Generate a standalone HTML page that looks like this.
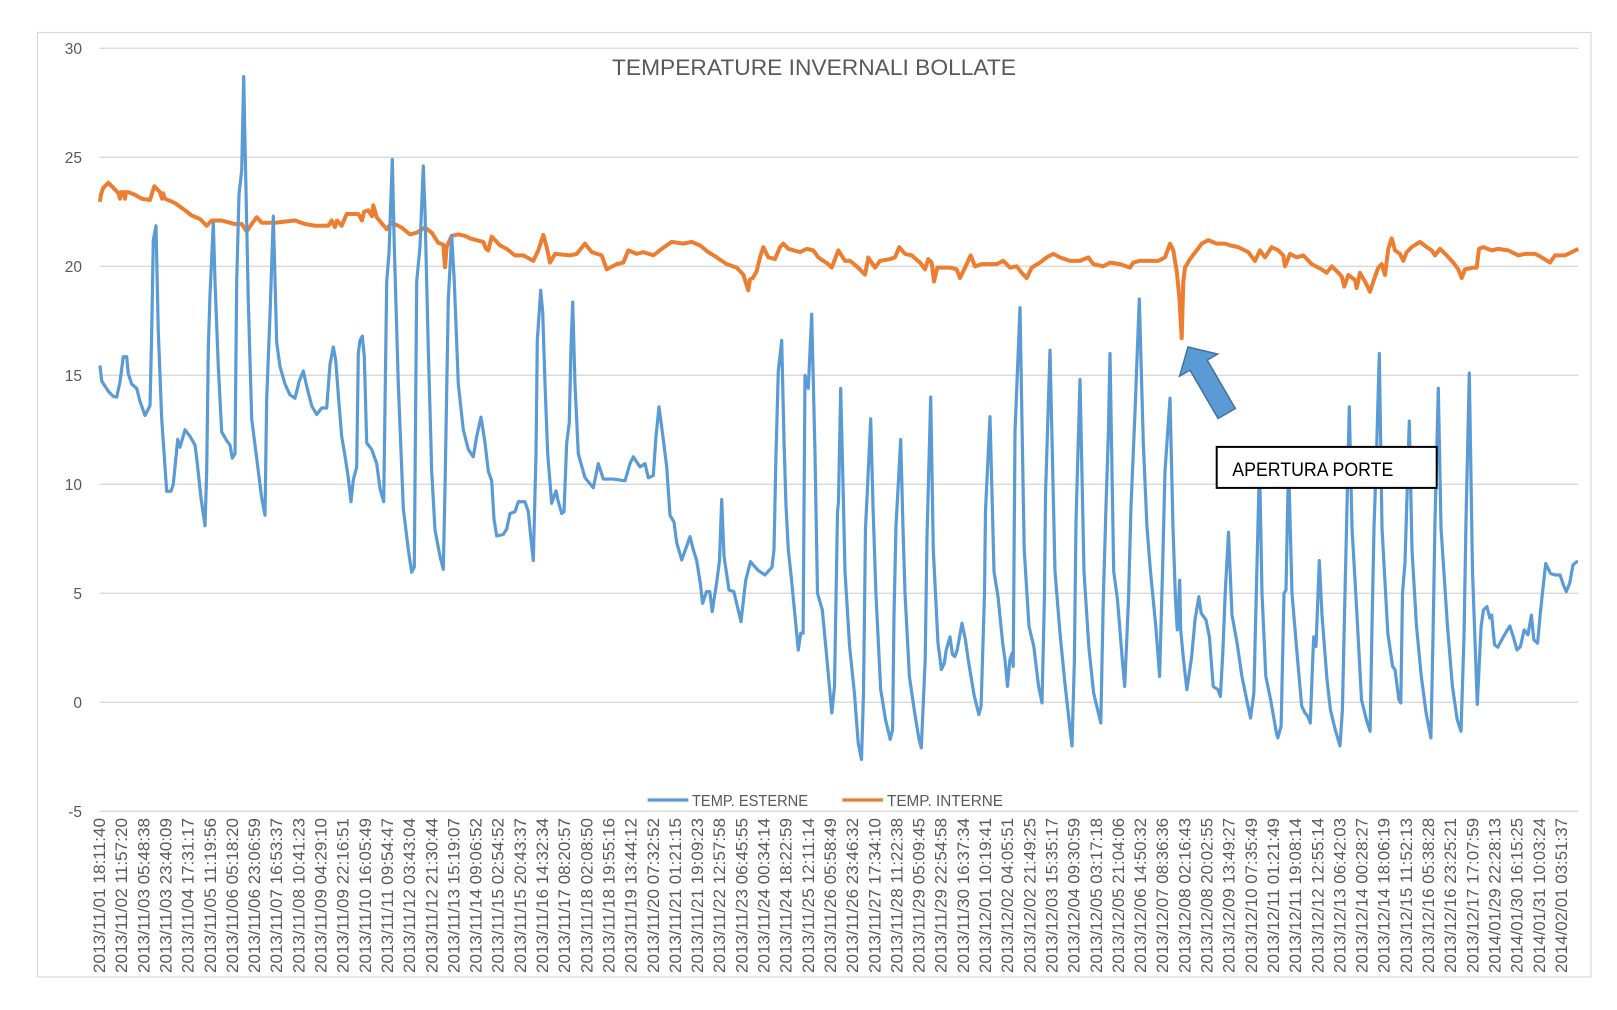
<!DOCTYPE html>
<html><head><meta charset="utf-8"><style>
html,body{margin:0;padding:0;background:#fff;}
svg{display:block;font-family:"Liberation Sans",sans-serif;}
</style></head><body>
<svg width="1617" height="1010" viewBox="0 0 1617 1010" xmlns="http://www.w3.org/2000/svg">
<rect x="0" y="0" width="1617" height="1010" fill="#fff"/>
<rect x="37.5" y="32.5" width="1553.5" height="944.5" fill="none" stroke="#D9D9D9" stroke-width="1.2"/>
<g stroke="#D9D9D9" stroke-width="1.4">
<line x1="99.5" y1="48.3" x2="1578.3" y2="48.3"/>
<line x1="99.5" y1="157.3" x2="1578.3" y2="157.3"/>
<line x1="99.5" y1="266.3" x2="1578.3" y2="266.3"/>
<line x1="99.5" y1="375.3" x2="1578.3" y2="375.3"/>
<line x1="99.5" y1="484.3" x2="1578.3" y2="484.3"/>
<line x1="99.5" y1="593.3" x2="1578.3" y2="593.3"/>
<line x1="99.5" y1="702.3" x2="1578.3" y2="702.3"/>
<line x1="99.5" y1="811.3" x2="1578.3" y2="811.3"/>
</g>
<g fill="#595959" font-size="15.5" text-anchor="end">
<text x="82" y="53.8">30</text>
<text x="82" y="162.8">25</text>
<text x="82" y="271.8">20</text>
<text x="82" y="380.8">15</text>
<text x="82" y="489.8">10</text>
<text x="82" y="598.8">5</text>
<text x="82" y="707.8">0</text>
<text x="82" y="816.8">-5</text>
</g>
<text x="814" y="75" fill="#595959" font-size="22.5" text-anchor="middle" textLength="404" lengthAdjust="spacingAndGlyphs">TEMPERATURE INVERNALI BOLLATE</text>

<g transform="translate(0,702.3) scale(1,-21.8)">
<polyline fill="none" stroke="#ED7D31" stroke-width="4" stroke-linejoin="round" vector-effect="non-scaling-stroke" points="100,22.96 101,23.3 103.3,23.6 108.3,23.83 113.3,23.6 118.3,23.36 120,23.1 121,23.4 123.3,23.4 125,23.1 126,23.4 128.3,23.4 135,23.28 141.7,23.1 150,23.04 154.3,23.67 160,23.4 162,23.1 163,23.35 165,23.1 175,22.9 185,22.57 191.7,22.33 200,22.17 206.7,21.86 211.7,22.1 221.7,22.1 235,21.94 241.7,21.94 246.7,21.6 251.7,21.94 256.7,22.25 261.7,22 275,22 295,22.1 305,21.94 315,21.86 328.3,21.86 331.7,22.1 335,21.8 337,22.1 341.7,21.86 346.7,22.4 358.3,22.4 362,22.1 364,22.5 368.3,22.57 372,22.3 373.3,22.8 376.7,22.25 386.7,21.7 391.7,22 401.7,21.78 410,21.46 416.7,21.54 425,21.78 431.7,21.54 438.3,21.07 443.3,21 445,19.96 446.7,20.9 451.7,21.4 458.3,21.46 465,21.4 470,21.28 483.3,21.12 486,20.8 488.3,20.73 491.7,21.36 500,20.96 506.7,20.8 515,20.5 523.3,20.5 533.3,20.25 538.3,20.73 543.3,21.44 546.7,20.88 550,20.17 555,20.57 570,20.5 576.7,20.57 585,21.04 591.7,20.65 601.7,20.5 606.7,19.86 610,19.94 616.7,20.1 623.3,20.17 628.3,20.73 636.7,20.57 643.3,20.65 653.3,20.5 661.7,20.8 671.7,21.12 683.3,21.04 691.7,21.12 700,20.96 708.3,20.65 716.7,20.41 726.7,20.1 736.7,19.94 743.3,19.62 748.3,18.9 750,19.4 752.7,19.46 756.7,19.78 760,20.41 763.3,20.88 768.3,20.41 775,20.33 780,20.88 783.3,21.04 788.3,20.8 800,20.65 806.7,20.8 813.3,20.73 818.3,20.41 823.3,20.25 828.3,20.1 831.7,19.94 838.3,20.73 845,20.25 850,20.25 856.7,20 865,19.62 868.3,20.4 875,19.94 880,20.25 890,20.33 895,20.41 899.3,20.88 905,20.57 911.7,20.5 920,20.17 925,19.86 928.3,20.33 931.7,20.17 934,19.3 937.3,19.94 950,19.94 956.7,19.86 960,19.46 965,19.94 970.7,20.5 975,20 981.7,20.1 996.7,20.1 1003.3,20.25 1010,19.94 1016.7,20 1021.7,19.7 1026.7,19.46 1031.7,19.94 1040,20.17 1046.7,20.41 1053.3,20.57 1060,20.41 1070,20.25 1080,20.25 1088.3,20.41 1093.3,20.1 1103.3,20 1110,20.17 1120,20.1 1130,19.94 1133.3,20.17 1140,20.25 1150,20.25 1158.3,20.25 1165,20.41 1170,21.04 1173.3,20.73 1176.7,19.78 1179.3,18.6 1181.7,16.7 1183.3,19.3 1185,19.94 1190,20.33 1196.7,20.73 1201.7,21.04 1208.3,21.2 1216.7,21.04 1225,21.04 1230,20.96 1238.3,20.88 1248.3,20.65 1255,20.25 1260,20.73 1265,20.41 1271.7,20.88 1278.3,20.73 1283.3,20.5 1285,20 1290,20.57 1296.7,20.41 1303.3,20.5 1311.7,20.1 1321.7,19.86 1326.7,19.7 1331.7,20 1336.7,19.78 1341.7,19.54 1344.3,19.07 1348.3,19.6 1355,19.38 1356.7,19 1360,19.7 1365,19.3 1370,18.83 1373.3,19.3 1378.3,19.94 1381.7,20.1 1385,19.6 1388.3,20.8 1391.7,21.28 1395,20.73 1400,20.57 1403.3,20.25 1406.7,20.65 1411.7,20.88 1420,21.12 1426.7,20.88 1431.7,20.73 1435,20.5 1440,20.8 1446.7,20.5 1453.3,20.17 1458.3,19.86 1461.7,19.46 1465,19.86 1473.3,19.94 1476.7,19.94 1479,20.8 1483.3,20.88 1491.7,20.73 1498.3,20.8 1508.3,20.73 1518.3,20.5 1525,20.57 1535,20.57 1541.7,20.41 1550,20.17 1555,20.5 1565,20.5 1571.7,20.65 1578.3,20.8"/>
<polyline fill="none" stroke="#5B9BD5" stroke-width="3.2" stroke-linejoin="round" vector-effect="non-scaling-stroke" points="100,15.45 101.7,14.74 108.3,14.27 113.3,14.03 116.7,14 120,14.7 123.3,15.85 126.7,15.85 128.3,15.06 131.7,14.6 136.7,14.4 140,13.8 145,13.16 150,13.6 151.7,16.96 153.3,21.2 156,21.86 158.3,17 161.7,13 166.7,9.68 171,9.68 173.3,10 177.7,12.06 180,11.7 185,12.5 190,12.2 195,11.8 196.7,11.2 201,9.37 205,8.1 206.7,10.6 208.3,16.2 210,18.7 213.3,22 215,19.3 218.3,15.4 221.7,12.4 226.7,12 230,11.8 232.3,11.2 235,11.4 236.7,19.3 239,23.3 241.7,24.4 243.7,28.7 245,25.65 248.3,18.4 251.7,13 258.3,10.6 261.7,9.37 265,8.58 266.7,13.95 270,17.75 273.3,22.3 276.7,16.5 280,15.4 285,14.6 290,14.1 295,13.95 299,14.7 303.3,15.2 306.7,14.5 311.7,13.6 316.7,13.2 321.7,13.5 326.7,13.5 330,15.5 333.3,16.3 335.7,15.7 338.3,14.1 341.7,12.2 345,11.3 348.3,10.3 351,9.2 353.3,10.2 356.7,10.8 358.3,16 360,16.6 362.3,16.8 364.3,15.85 366.7,11.9 371.7,11.6 376.7,10.95 380,9.8 383.7,9.2 386.7,19.3 389,20.6 392.3,24.9 394.3,20.9 398.3,14.6 403.3,8.9 408.3,7 411.7,5.97 414.3,6.2 416.7,19.3 420,20.9 423.3,24.6 425,22.5 428.3,16.2 431.7,10.6 435,7.9 440,6.7 443.3,6.1 445,9.8 448.3,18.5 451.7,21.4 454.3,19.3 458.3,14.6 463.3,12.5 468.3,11.6 473.3,11.26 476.7,12.2 481,13.08 485,11.9 488.3,10.6 491.7,10.16 494,8.4 496.7,7.63 503.3,7.7 506.7,7.95 510,8.66 515,8.74 518.3,9.2 525,9.2 528.3,8.74 531,7.48 533.3,6.5 536,11.4 537.3,16.6 540.7,18.9 542.7,17.9 545,14.6 547.7,11.4 551.7,9.13 556,9.7 558.3,9.2 561.7,8.66 564,8.74 566.7,11.9 569.3,12.84 571,16.3 572.7,18.36 575,14.57 578.3,11.4 585,10.3 593.3,9.84 598.3,10.95 603.3,10.24 613.3,10.24 625,10.16 630,10.95 633.3,11.26 640,10.8 645,10.95 648.3,10.3 653.3,10.4 656,12.2 659,13.55 663.3,12.06 666.7,10.8 670,8.58 674,8.27 676.7,7.32 681.7,6.53 686.7,7.16 690,7.6 693.3,7 696.7,6.5 700.3,5.46 702.6,4.54 706.5,5.08 709.8,5.08 712.2,4.16 717,5.6 719.5,6.5 721.7,9.3 724,6.7 729,5.15 733.8,5.08 741,3.7 745.7,5.6 750.5,6.45 757.7,6.07 764.9,5.84 772,6.2 774,7 776,11.4 778.3,15.2 781.7,16.6 784,12 786,9 788.3,7 791.2,5.76 798.3,2.4 800.7,3.17 803.1,3.17 805,15 808.3,14.4 811.7,17.8 815,11.4 817.5,5 822.3,4.24 827,1.95 831.8,-0.49 834.5,0.73 837.5,8.74 838.5,9.2 840.7,14.4 843,10 845,6 849.6,2.56 854.4,0.43 858.2,-1.86 861.5,-2.62 863.5,0.43 865.5,8 867,9.37 870.7,13 873,9 875.9,5 880.7,0.58 885.5,-0.79 890.2,-1.7 892.6,-1.25 894,4 896,8.1 900.7,12.05 903,8 905,5 909.4,1.19 914.2,-0.34 919,-1.7 921.3,-2.09 925.2,1.95 927,7.6 930.7,14 933.3,7 938,2.71 941.4,1.5 944.3,1.8 946.2,2.4 950,3 952.4,2.2 954.8,2.1 957.2,2.4 962,3.63 965.4,2.87 968.2,1.95 974,0.35 978.8,-0.56 981.1,-0.18 984.5,5 985.5,8.8 990,13.1 994,6 998,4.85 1002.7,2.71 1005,1.95 1007.5,0.73 1009.9,1.95 1012.2,2.26 1013.2,1.65 1015,12.4 1020,18.1 1024.2,7 1029,3.48 1033.8,2.56 1038.6,0.73 1042,-0.03 1044.5,5 1045.5,9.5 1050,16.15 1055,6 1060,3.17 1064.9,0.88 1069.7,-1.1 1072,-2 1074.4,1.95 1076,8.27 1080,14.8 1084,6 1088.8,2.56 1093.6,0.43 1098.4,-0.49 1100.8,-0.95 1103.2,4.54 1106,9 1108.3,12.2 1110,16 1113.7,6 1117.5,4.7 1122.3,1.95 1124.7,0.73 1128.5,4.7 1131,9 1135,13.3 1139.3,18.5 1143.3,11.9 1147,8 1150.5,6 1155.8,3.48 1159.6,1.19 1162.5,6 1165,10.6 1170,13.95 1173,8 1175.5,4.7 1177.3,3.32 1179.7,5.6 1180.7,3.32 1183.5,1.95 1186.9,0.58 1191.7,2.1 1195,3.78 1198.9,4.85 1201.2,4.09 1206,3.78 1209.4,3 1213.2,0.73 1218,0.58 1220.4,0.27 1222.8,2.26 1225.2,5 1228.5,7.8 1232,4 1237.1,2.71 1241.9,1.19 1246.7,0.12 1250.5,-0.72 1253.9,0.43 1256.3,5 1259.5,11 1262,5 1265.8,1.19 1270.6,0.12 1276.4,-1.4 1277.8,-1.63 1281.1,-1.1 1284,5 1286,5.15 1288.5,11 1292,5 1297,2.26 1301.7,-0.18 1305,-0.49 1307.8,-0.64 1310.3,-0.95 1312.7,1.95 1313.7,3 1316,2.56 1319.3,6.5 1322,4 1327,1.04 1330.4,-0.34 1335.2,-1.25 1340,-2 1342.4,-0.34 1345,5 1347,9 1349.3,13.55 1352,8 1356.7,4.24 1361.5,0.12 1366.3,-0.79 1370.1,-1.33 1372,3.48 1374,8 1376.7,11.7 1379.3,16 1382,8 1387.8,3.17 1392.6,1.65 1395,1.5 1398.9,0.12 1400.8,-0.03 1402.5,5 1405,6.4 1409.3,12.9 1412,7 1416.5,3.48 1421.3,1.19 1426.1,-0.49 1430.9,-1.63 1433,3 1435,8.3 1438.3,14.4 1441,8 1447.5,3.48 1452.4,0.73 1457.2,-0.79 1461,-1.33 1464,3 1466,8.3 1469.3,15.1 1472.5,6 1477.3,-0.1 1481.1,3.48 1483.5,4.24 1486.9,4.39 1489.8,3.86 1491.7,4 1494.5,2.64 1497.8,2.53 1502.6,2.94 1507.4,3.32 1509.9,3.5 1513.7,2.94 1517,2.4 1520.4,2.56 1524.2,3.32 1528,3.1 1531.4,4 1533.8,2.87 1537.6,2.71 1540,3.93 1542.4,5 1545.7,6.37 1550.5,5.91 1555.3,5.84 1560.1,5.84 1563.4,5.38 1566.3,5.08 1569.7,5.46 1573,6.3 1576.8,6.45 1578,6.45"/>
</g>

<polygon points="1188,347 1217.6,354 1207.2,360.1 1235.3,408.5 1218.1,418.5 1190,370.1 1179.6,376.2" fill="#5B9BD5" stroke="#41719C" stroke-width="1.5" stroke-linejoin="miter"/>
<rect x="1216.7" y="446.9" width="220" height="41" fill="#fff" stroke="#000" stroke-width="2"/>
<text x="1232.3" y="476" fill="#000" font-size="19" textLength="161" lengthAdjust="spacingAndGlyphs">APERTURA PORTE</text>

<line x1="647.6" y1="800" x2="688.3" y2="800" stroke="#5B9BD5" stroke-width="3.2"/>
<text x="692" y="806" fill="#595959" font-size="15.5" textLength="116" lengthAdjust="spacingAndGlyphs">TEMP. ESTERNE</text>
<line x1="842.4" y1="800" x2="883" y2="800" stroke="#ED7D31" stroke-width="3.2"/>
<text x="887" y="806" fill="#595959" font-size="15.5" textLength="116" lengthAdjust="spacingAndGlyphs">TEMP. INTERNE</text>

<g transform="rotate(-90)" fill="#595959" font-size="16.5" text-anchor="end">
<text x="-818" y="105" textLength="155" lengthAdjust="spacingAndGlyphs">2013/11/01 18:11:40</text>
<text x="-818" y="127.15" textLength="155" lengthAdjust="spacingAndGlyphs">2013/11/02 11:57:20</text>
<text x="-818" y="149.3" textLength="155" lengthAdjust="spacingAndGlyphs">2013/11/03 05:48:38</text>
<text x="-818" y="171.45" textLength="155" lengthAdjust="spacingAndGlyphs">2013/11/03 23:40:09</text>
<text x="-818" y="193.6" textLength="155" lengthAdjust="spacingAndGlyphs">2013/11/04 17:31:17</text>
<text x="-818" y="215.75" textLength="155" lengthAdjust="spacingAndGlyphs">2013/11/05 11:19:56</text>
<text x="-818" y="237.9" textLength="155" lengthAdjust="spacingAndGlyphs">2013/11/06 05:18:20</text>
<text x="-818" y="260.05" textLength="155" lengthAdjust="spacingAndGlyphs">2013/11/06 23:06:59</text>
<text x="-818" y="282.2" textLength="155" lengthAdjust="spacingAndGlyphs">2013/11/07 16:53:37</text>
<text x="-818" y="304.35" textLength="155" lengthAdjust="spacingAndGlyphs">2013/11/08 10:41:23</text>
<text x="-818" y="326.5" textLength="155" lengthAdjust="spacingAndGlyphs">2013/11/09 04:29:10</text>
<text x="-818" y="348.65" textLength="155" lengthAdjust="spacingAndGlyphs">2013/11/09 22:16:51</text>
<text x="-818" y="370.8" textLength="155" lengthAdjust="spacingAndGlyphs">2013/11/10 16:05:49</text>
<text x="-818" y="392.95" textLength="155" lengthAdjust="spacingAndGlyphs">2013/11/11 09:54:47</text>
<text x="-818" y="415.1" textLength="155" lengthAdjust="spacingAndGlyphs">2013/11/12 03:43:04</text>
<text x="-818" y="437.25" textLength="155" lengthAdjust="spacingAndGlyphs">2013/11/12 21:30:44</text>
<text x="-818" y="459.4" textLength="155" lengthAdjust="spacingAndGlyphs">2013/11/13 15:19:07</text>
<text x="-818" y="481.55" textLength="155" lengthAdjust="spacingAndGlyphs">2013/11/14 09:06:52</text>
<text x="-818" y="503.7" textLength="155" lengthAdjust="spacingAndGlyphs">2013/11/15 02:54:52</text>
<text x="-818" y="525.85" textLength="155" lengthAdjust="spacingAndGlyphs">2013/11/15 20:43:37</text>
<text x="-818" y="548" textLength="155" lengthAdjust="spacingAndGlyphs">2013/11/16 14:32:34</text>
<text x="-818" y="570.15" textLength="155" lengthAdjust="spacingAndGlyphs">2013/11/17 08:20:57</text>
<text x="-818" y="592.3" textLength="155" lengthAdjust="spacingAndGlyphs">2013/11/18 02:08:50</text>
<text x="-818" y="614.45" textLength="155" lengthAdjust="spacingAndGlyphs">2013/11/18 19:55:16</text>
<text x="-818" y="636.6" textLength="155" lengthAdjust="spacingAndGlyphs">2013/11/19 13:44:12</text>
<text x="-818" y="658.75" textLength="155" lengthAdjust="spacingAndGlyphs">2013/11/20 07:32:52</text>
<text x="-818" y="680.9" textLength="155" lengthAdjust="spacingAndGlyphs">2013/11/21 01:21:15</text>
<text x="-818" y="703.05" textLength="155" lengthAdjust="spacingAndGlyphs">2013/11/21 19:09:23</text>
<text x="-818" y="725.2" textLength="155" lengthAdjust="spacingAndGlyphs">2013/11/22 12:57:58</text>
<text x="-818" y="747.35" textLength="155" lengthAdjust="spacingAndGlyphs">2013/11/23 06:45:55</text>
<text x="-818" y="769.5" textLength="155" lengthAdjust="spacingAndGlyphs">2013/11/24 00:34:14</text>
<text x="-818" y="791.65" textLength="155" lengthAdjust="spacingAndGlyphs">2013/11/24 18:22:59</text>
<text x="-818" y="813.8" textLength="155" lengthAdjust="spacingAndGlyphs">2013/11/25 12:11:14</text>
<text x="-818" y="835.95" textLength="155" lengthAdjust="spacingAndGlyphs">2013/11/26 05:58:49</text>
<text x="-818" y="858.1" textLength="155" lengthAdjust="spacingAndGlyphs">2013/11/26 23:46:32</text>
<text x="-818" y="880.25" textLength="155" lengthAdjust="spacingAndGlyphs">2013/11/27 17:34:10</text>
<text x="-818" y="902.4" textLength="155" lengthAdjust="spacingAndGlyphs">2013/11/28 11:22:38</text>
<text x="-818" y="924.55" textLength="155" lengthAdjust="spacingAndGlyphs">2013/11/29 05:09:45</text>
<text x="-818" y="946.7" textLength="155" lengthAdjust="spacingAndGlyphs">2013/11/29 22:54:58</text>
<text x="-818" y="968.85" textLength="155" lengthAdjust="spacingAndGlyphs">2013/11/30 16:37:34</text>
<text x="-818" y="991" textLength="155" lengthAdjust="spacingAndGlyphs">2013/12/01 10:19:41</text>
<text x="-818" y="1013.15" textLength="155" lengthAdjust="spacingAndGlyphs">2013/12/02 04:05:51</text>
<text x="-818" y="1035.3" textLength="155" lengthAdjust="spacingAndGlyphs">2013/12/02 21:49:25</text>
<text x="-818" y="1057.45" textLength="155" lengthAdjust="spacingAndGlyphs">2013/12/03 15:35:17</text>
<text x="-818" y="1079.6" textLength="155" lengthAdjust="spacingAndGlyphs">2013/12/04 09:30:59</text>
<text x="-818" y="1101.75" textLength="155" lengthAdjust="spacingAndGlyphs">2013/12/05 03:17:18</text>
<text x="-818" y="1123.9" textLength="155" lengthAdjust="spacingAndGlyphs">2013/12/05 21:04:06</text>
<text x="-818" y="1146.05" textLength="155" lengthAdjust="spacingAndGlyphs">2013/12/06 14:50:32</text>
<text x="-818" y="1168.2" textLength="155" lengthAdjust="spacingAndGlyphs">2013/12/07 08:36:36</text>
<text x="-818" y="1190.35" textLength="155" lengthAdjust="spacingAndGlyphs">2013/12/08 02:16:43</text>
<text x="-818" y="1212.5" textLength="155" lengthAdjust="spacingAndGlyphs">2013/12/08 20:02:55</text>
<text x="-818" y="1234.65" textLength="155" lengthAdjust="spacingAndGlyphs">2013/12/09 13:49:27</text>
<text x="-818" y="1256.8" textLength="155" lengthAdjust="spacingAndGlyphs">2013/12/10 07:35:49</text>
<text x="-818" y="1278.95" textLength="155" lengthAdjust="spacingAndGlyphs">2013/12/11 01:21:49</text>
<text x="-818" y="1301.1" textLength="155" lengthAdjust="spacingAndGlyphs">2013/12/11 19:08:14</text>
<text x="-818" y="1323.25" textLength="155" lengthAdjust="spacingAndGlyphs">2013/12/12 12:55:14</text>
<text x="-818" y="1345.4" textLength="155" lengthAdjust="spacingAndGlyphs">2013/12/13 06:42:03</text>
<text x="-818" y="1367.55" textLength="155" lengthAdjust="spacingAndGlyphs">2013/12/14 00:28:27</text>
<text x="-818" y="1389.7" textLength="155" lengthAdjust="spacingAndGlyphs">2013/12/14 18:06:19</text>
<text x="-818" y="1411.85" textLength="155" lengthAdjust="spacingAndGlyphs">2013/12/15 11:52:13</text>
<text x="-818" y="1434" textLength="155" lengthAdjust="spacingAndGlyphs">2013/12/16 05:38:28</text>
<text x="-818" y="1456.15" textLength="155" lengthAdjust="spacingAndGlyphs">2013/12/16 23:25:21</text>
<text x="-818" y="1478.3" textLength="155" lengthAdjust="spacingAndGlyphs">2013/12/17 17:07:59</text>
<text x="-818" y="1500.45" textLength="155" lengthAdjust="spacingAndGlyphs">2014/01/29 22:28:13</text>
<text x="-818" y="1522.6" textLength="155" lengthAdjust="spacingAndGlyphs">2014/01/30 16:15:25</text>
<text x="-818" y="1544.75" textLength="155" lengthAdjust="spacingAndGlyphs">2014/01/31 10:03:24</text>
<text x="-818" y="1566.9" textLength="155" lengthAdjust="spacingAndGlyphs">2014/02/01 03:51:37</text>
</g>
</svg>
</body></html>
